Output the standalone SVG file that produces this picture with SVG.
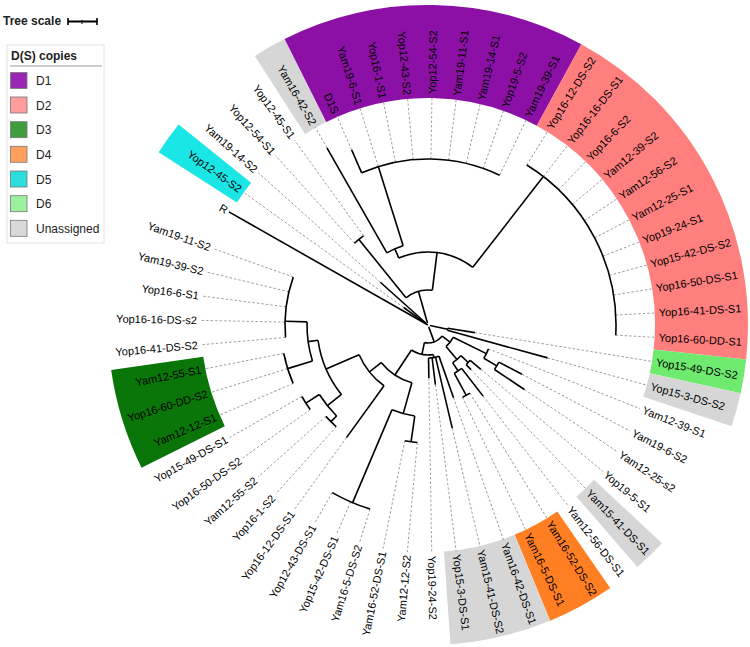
<svg xmlns="http://www.w3.org/2000/svg" width="750" height="647" viewBox="0 0 750 647">
<style>
.t{font-family:"Liberation Sans",Arial,sans-serif;font-size:11px;fill:#000}
.r{text-anchor:end}
.b line,.b circle{fill:none;stroke:#000;stroke-width:1.6}
.d line{stroke:#999;stroke-width:0.9;stroke-dasharray:2.5 2}
.band{fill:none;stroke-width:93}
.lg{font-family:"Liberation Sans",Arial,sans-serif;font-size:12px;fill:#222}
.sw{stroke:#777;stroke-width:0.8}
</style>
<rect width="750" height="647" fill="#fff"/>
<g id="legend">
<text x="3" y="25" class="lg" font-weight="bold" fill="#000">Tree scale</text>
<g stroke="#000" stroke-width="1.6"><line x1="68" y1="21.5" x2="97" y2="21.5" stroke-width="2"/><line x1="68" y1="18" x2="68" y2="25"/><line x1="97" y1="18" x2="97" y2="25"/><line x1="82" y1="20" x2="82" y2="24" stroke-width="1"/></g>
<rect x="7" y="45" width="97" height="198" fill="#fff" stroke="#e2e2e2"/>
<text x="11" y="60" class="lg" font-weight="bold" fill="#000">D(S) copies</text>
<line x1="10" y1="66" x2="102" y2="66" stroke="#999"/>
<rect class="sw" x="10.5" y="72.5" width="16.5" height="16" fill="#9B26B6"/><text class="lg" x="36" y="85">D1</text>
<rect class="sw" x="10.5" y="97" width="16.5" height="16" fill="#FF9C9C"/><text class="lg" x="36" y="109.5">D2</text>
<rect class="sw" x="10.5" y="121.7" width="16.5" height="16" fill="#3E9E3E"/><text class="lg" x="36" y="134.2">D3</text>
<rect class="sw" x="10.5" y="146.3" width="16.5" height="16" fill="#FFA05C"/><text class="lg" x="36" y="158.8">D4</text>
<rect class="sw" x="10.5" y="171" width="16.5" height="16" fill="#2BDDDD"/><text class="lg" x="36" y="183.5">D5</text>
<rect class="sw" x="10.5" y="195.7" width="16.5" height="16" fill="#9BF09B"/><text class="lg" x="36" y="208.2">D6</text>
<rect class="sw" x="10.5" y="220.3" width="16.5" height="16" fill="#D9D9D9"/><text class="lg" x="36" y="232.8">Unassigned</text>
</g>
<g transform="translate(428,325)">
<g id="bands">
<circle class="band" r="273.5" pathLength="360" stroke="#1BE6E6" stroke-dasharray="6.14 360" transform="rotate(212.67)"/>
<circle class="band" r="273.5" pathLength="360" stroke="#D6D6D6" stroke-dasharray="6.14 360" transform="rotate(237.23)"/>
<circle class="band" r="273.5" pathLength="360" stroke="#8C10A6" stroke-dasharray="55.26 360" transform="rotate(243.37)"/>
<circle class="band" r="273.5" pathLength="360" stroke="#FF7F7F" stroke-dasharray="67.54 360" transform="rotate(298.63)"/>
<circle class="band" r="273.5" pathLength="360" stroke="#6EEB6E" stroke-dasharray="6.14 360" transform="rotate(6.17)"/>
<circle class="band" r="273.5" pathLength="360" stroke="#D6D6D6" stroke-dasharray="6.14 360" transform="rotate(12.31)"/>
<circle class="band" r="273.5" pathLength="360" stroke="#D6D6D6" stroke-dasharray="6.14 360" transform="rotate(43.01)"/>
<circle class="band" r="273.5" pathLength="360" stroke="#FF7F22" stroke-dasharray="12.28 360" transform="rotate(55.29)"/>
<circle class="band" r="273.5" pathLength="360" stroke="#D6D6D6" stroke-dasharray="18.42 360" transform="rotate(67.57)"/>
<circle class="band" r="273.5" pathLength="360" stroke="#0A760A" stroke-dasharray="18.42 360" transform="rotate(153.53)"/>
</g>
<g id="connectors">
<g class="d">
<line x1="30" x2="228" transform="rotate(215.74)"/>
<line x1="64" x2="228" transform="rotate(221.88)"/>
<line x1="110" x2="228" transform="rotate(228.02)"/>
<line x1="110" x2="228" transform="rotate(234.16)"/>
<line x1="204" x2="228" transform="rotate(240.3)"/>
<line x1="191" x2="228" transform="rotate(246.44)"/>
<line x1="166" x2="228" transform="rotate(252.58)"/>
<line x1="166" x2="228" transform="rotate(258.72)"/>
<line x1="166" x2="228" transform="rotate(264.86)"/>
<line x1="166" x2="228" transform="rotate(271)"/>
<line x1="166" x2="228" transform="rotate(277.14)"/>
<line x1="166" x2="228" transform="rotate(283.28)"/>
<line x1="166" x2="228" transform="rotate(289.42)"/>
<line x1="166" x2="228" transform="rotate(295.56)"/>
<line x1="188" x2="228" transform="rotate(301.7)"/>
<line x1="188" x2="228" transform="rotate(307.84)"/>
<line x1="188" x2="228" transform="rotate(313.98)"/>
<line x1="188" x2="228" transform="rotate(320.12)"/>
<line x1="188" x2="228" transform="rotate(326.26)"/>
<line x1="188" x2="228" transform="rotate(332.4)"/>
<line x1="188" x2="228" transform="rotate(338.54)"/>
<line x1="188" x2="228" transform="rotate(344.68)"/>
<line x1="188" x2="228" transform="rotate(350.82)"/>
<line x1="188" x2="228" transform="rotate(356.96)"/>
<line x1="188" x2="228" transform="rotate(3.1)"/>
<line x1="47.5" x2="228" transform="rotate(9.24)"/>
<line x1="124" x2="228" transform="rotate(15.38)"/>
<line x1="65" x2="228" transform="rotate(21.52)"/>
<line x1="106" x2="228" transform="rotate(27.66)"/>
<line x1="116" x2="228" transform="rotate(33.8)"/>
<line x1="69" x2="228" transform="rotate(39.94)"/>
<line x1="62" x2="228" transform="rotate(46.08)"/>
<line x1="90" x2="228" transform="rotate(52.22)"/>
<line x1="80" x2="228" transform="rotate(58.36)"/>
<line x1="80" x2="228" transform="rotate(64.5)"/>
<line x1="77" x2="228" transform="rotate(70.64)"/>
<line x1="106" x2="228" transform="rotate(76.78)"/>
<line x1="60" x2="228" transform="rotate(82.92)"/>
<line x1="53" x2="228" transform="rotate(89.06)"/>
<line x1="118" x2="228" transform="rotate(95.2)"/>
<line x1="118" x2="228" transform="rotate(101.34)"/>
<line x1="193" x2="228" transform="rotate(107.48)"/>
<line x1="193" x2="228" transform="rotate(113.62)"/>
<line x1="193" x2="228" transform="rotate(119.76)"/>
<line x1="139" x2="228" transform="rotate(125.9)"/>
<line x1="137" x2="228" transform="rotate(132.04)"/>
<line x1="137" x2="228" transform="rotate(138.18)"/>
<line x1="145" x2="228" transform="rotate(144.32)"/>
<line x1="145" x2="228" transform="rotate(150.46)"/>
<line x1="147" x2="228" transform="rotate(156.6)"/>
<line x1="147" x2="228" transform="rotate(162.74)"/>
<line x1="147" x2="228" transform="rotate(168.88)"/>
<line x1="143" x2="228" transform="rotate(175.02)"/>
<line x1="143" x2="228" transform="rotate(181.16)"/>
<line x1="143" x2="228" transform="rotate(187.3)"/>
<line x1="143" x2="228" transform="rotate(193.44)"/>
<line x1="143" x2="228" transform="rotate(199.58)"/>
</g>
<g class="b">
<line x1="0" x2="229" transform="rotate(209.6)"/>
<line x1="2" x2="30" transform="rotate(215.74)"/>
<line x1="3" x2="64" transform="rotate(221.88)"/>
<line x1="2" x2="35" transform="rotate(-105.885)"/>
<circle r="35" pathLength="360" stroke-dasharray="46.05 360" transform="rotate(-128.91)"/>
<line x1="35" x2="110" transform="rotate(-128.91)"/>
<circle r="110" pathLength="360" stroke-dasharray="6.14 360" transform="rotate(-131.98)"/>
<line x1="35" x2="73" transform="rotate(-82.86)"/>
<circle r="73" pathLength="360" stroke-dasharray="61.4 360" transform="rotate(-113.56)"/>
<line x1="73" x2="83" transform="rotate(-113.56)"/>
<circle r="83" pathLength="360" stroke-dasharray="12.28 360" transform="rotate(-119.7)"/>
<line x1="83" x2="204" transform="rotate(-119.7)"/>
<line x1="83" x2="166" transform="rotate(-107.42)"/>
<circle r="166" pathLength="360" stroke-dasharray="49.12 360" transform="rotate(-113.56)"/>
<line x1="166" x2="191" transform="rotate(-113.56)"/>
<line x1="73" x2="188" transform="rotate(-52.16)"/>
<circle r="188" pathLength="360" stroke-dasharray="61.4 360" transform="rotate(-58.3)"/>
<line x1="2" x2="20" transform="rotate(12.31)"/>
<circle r="20" pathLength="360" stroke-dasharray="6.14 360" transform="rotate(9.24)"/>
<line x1="20" x2="47.5" transform="rotate(9.24)"/>
<line x1="20" x2="124" transform="rotate(15.38)"/>
<line x1="2" x2="18" transform="rotate(69.8)"/>
<circle r="18" pathLength="360" stroke-dasharray="63.65 360" transform="rotate(38)"/>
<line x1="18" x2="28" transform="rotate(38)"/>
<circle r="28" pathLength="360" stroke-dasharray="23.8 360" transform="rotate(26.1)"/>
<line x1="28" x2="65" transform="rotate(26.1)"/>
<circle r="65" pathLength="360" stroke-dasharray="9.21 360" transform="rotate(21.52)"/>
<line x1="65" x2="80" transform="rotate(30.73)"/>
<circle r="80" pathLength="360" stroke-dasharray="6.14 360" transform="rotate(27.66)"/>
<line x1="80" x2="106" transform="rotate(27.66)"/>
<line x1="80" x2="116" transform="rotate(33.8)"/>
<line x1="28" x2="45" transform="rotate(49.9)"/>
<circle r="45" pathLength="360" stroke-dasharray="13.8 360" transform="rotate(43)"/>
<line x1="45" x2="55" transform="rotate(43)"/>
<circle r="55" pathLength="360" stroke-dasharray="6.14 360" transform="rotate(39.94)"/>
<line x1="55" x2="69" transform="rotate(39.94)"/>
<line x1="55" x2="62" transform="rotate(46.08)"/>
<line x1="45" x2="55" transform="rotate(56.8)"/>
<circle r="55" pathLength="360" stroke-dasharray="9.21 360" transform="rotate(52.22)"/>
<line x1="55" x2="90" transform="rotate(52.22)"/>
<line x1="55" x2="80" transform="rotate(61.43)"/>
<circle r="80" pathLength="360" stroke-dasharray="6.14 360" transform="rotate(58.36)"/>
<line x1="18" x2="30" transform="rotate(101.65)"/>
<circle r="30" pathLength="360" stroke-dasharray="43.6 360" transform="rotate(79.85)"/>
<line x1="30" x2="33" transform="rotate(79.85)"/>
<circle r="33" pathLength="360" stroke-dasharray="18.42 360" transform="rotate(70.64)"/>
<line x1="33" x2="77" transform="rotate(70.64)"/>
<line x1="33" x2="106" transform="rotate(76.78)"/>
<line x1="33" x2="60" transform="rotate(82.92)"/>
<line x1="33" x2="53" transform="rotate(89.06)"/>
<line x1="30" x2="60" transform="rotate(123.45)"/>
<circle r="60" pathLength="360" stroke-dasharray="35.7 360" transform="rotate(105.6)"/>
<line x1="60" x2="92" transform="rotate(105.6)"/>
<circle r="92" pathLength="360" stroke-dasharray="14.73 360" transform="rotate(98.27)"/>
<line x1="92" x2="118" transform="rotate(98.27)"/>
<circle r="118" pathLength="360" stroke-dasharray="6.14 360" transform="rotate(95.2)"/>
<line x1="92" x2="193" transform="rotate(113)"/>
<circle r="193" pathLength="360" stroke-dasharray="12.28 360" transform="rotate(107.48)"/>
<line x1="60" x2="75" transform="rotate(141.3)"/>
<circle r="75" pathLength="360" stroke-dasharray="30.8 360" transform="rotate(125.9)"/>
<line x1="75" x2="139" transform="rotate(125.9)"/>
<line x1="75" x2="111" transform="rotate(156.7)"/>
<circle r="111" pathLength="360" stroke-dasharray="30.85 360" transform="rotate(141.25)"/>
<line x1="111" x2="129" transform="rotate(141.25)"/>
<circle r="129" pathLength="360" stroke-dasharray="12.28 360" transform="rotate(135.11)"/>
<line x1="129" x2="137" transform="rotate(135.11)"/>
<circle r="137" pathLength="360" stroke-dasharray="6.14 360" transform="rotate(132.04)"/>
<line x1="129" x2="145" transform="rotate(147.39)"/>
<circle r="145" pathLength="360" stroke-dasharray="6.14 360" transform="rotate(144.32)"/>
<line x1="111" x2="121" transform="rotate(172.1)"/>
<circle r="121" pathLength="360" stroke-dasharray="18.76 360" transform="rotate(162.74)"/>
<line x1="121" x2="147" transform="rotate(162.74)"/>
<circle r="147" pathLength="360" stroke-dasharray="12.28 360" transform="rotate(156.6)"/>
<line x1="121" x2="143" transform="rotate(181.5)"/>
<circle r="143" pathLength="360" stroke-dasharray="24.56 360" transform="rotate(175.02)"/>
</g>
</g>
<g id="leaves">
<g id="n0"><text class="t r" x="-231" dy=".35em" transform="rotate(29.6)">R</text></g>
<g id="n1"><text class="t r" x="-231" dy=".35em" transform="rotate(35.74)">Yop12-45-S2</text></g>
<g id="n2"><text class="t r" x="-231" dy=".35em" transform="rotate(41.88)">Yam19-14-S2</text></g>
<g id="n3"><text class="t r" x="-231" dy=".35em" transform="rotate(48.02)">Yop12-54-S1</text></g>
<g id="n4"><text class="t r" x="-231" dy=".35em" transform="rotate(54.16)">Yop12-45-S1</text></g>
<g id="n5"><text class="t r" x="-231" dy=".35em" transform="rotate(60.3)">Yam16-42-S2</text></g>
<g id="n6"><text class="t r" x="-231" dy=".35em" transform="rotate(66.44)">D1S</text></g>
<g id="n7"><text class="t r" x="-231" dy=".35em" transform="rotate(72.58)">Yam19-6-S1</text></g>
<g id="n8"><text class="t r" x="-231" dy=".35em" transform="rotate(78.72)">Yop16-1-S1</text></g>
<g id="n9"><text class="t r" x="-231" dy=".35em" transform="rotate(84.86)">Yop12-43-S2</text></g>
<g id="n10"><text class="t" x="231" dy=".35em" transform="rotate(-89)">Yop12-54-S2</text></g>
<g id="n11"><text class="t" x="231" dy=".35em" transform="rotate(-82.86)">Yam19-11-S1</text></g>
<g id="n12"><text class="t" x="231" dy=".35em" transform="rotate(-76.72)">Yam19-14-S1</text></g>
<g id="n13"><text class="t" x="231" dy=".35em" transform="rotate(-70.58)">Yop19-5-S2</text></g>
<g id="n14"><text class="t" x="231" dy=".35em" transform="rotate(-64.44)">Yam19-39-S1</text></g>
<g id="n15"><text class="t" x="231" dy=".35em" transform="rotate(-58.3)">Yop16-12-DS-S2</text></g>
<g id="n16"><text class="t" x="231" dy=".35em" transform="rotate(-52.16)">Yop16-16-DS-S1</text></g>
<g id="n17"><text class="t" x="231" dy=".35em" transform="rotate(-46.02)">Yop16-6-S2</text></g>
<g id="n18"><text class="t" x="231" dy=".35em" transform="rotate(-39.88)">Yam12-39-S2</text></g>
<g id="n19"><text class="t" x="231" dy=".35em" transform="rotate(-33.74)">Yam12-56-S2</text></g>
<g id="n20"><text class="t" x="231" dy=".35em" transform="rotate(-27.6)">Yam12-25-S1</text></g>
<g id="n21"><text class="t" x="231" dy=".35em" transform="rotate(-21.46)">Yop19-24-S1</text></g>
<g id="n22"><text class="t" x="231" dy=".35em" transform="rotate(-15.32)">Yop15-42-DS-S2</text></g>
<g id="n23"><text class="t" x="231" dy=".35em" transform="rotate(-9.18)">Yop16-50-DS-S1</text></g>
<g id="n24"><text class="t" x="231" dy=".35em" transform="rotate(-3.04)">Yop16-41-DS-S1</text></g>
<g id="n25"><text class="t" x="231" dy=".35em" transform="rotate(3.1)">Yop16-60-DD-S1</text></g>
<g id="n26"><text class="t" x="231" dy=".35em" transform="rotate(9.24)">Yop15-49-DS-S2</text></g>
<g id="n27"><text class="t" x="231" dy=".35em" transform="rotate(15.38)">Yop15-3-DS-S2</text></g>
<g id="n28"><text class="t" x="231" dy=".35em" transform="rotate(21.52)">Yam12-39-S1</text></g>
<g id="n29"><text class="t" x="231" dy=".35em" transform="rotate(27.66)">Yam19-6-S2</text></g>
<g id="n30"><text class="t" x="231" dy=".35em" transform="rotate(33.8)">Yam12-25-s2</text></g>
<g id="n31"><text class="t" x="231" dy=".35em" transform="rotate(39.94)">Yop19-5-S1</text></g>
<g id="n32"><text class="t" x="231" dy=".35em" transform="rotate(46.08)">Yam15-41-DS-S1</text></g>
<g id="n33"><text class="t" x="231" dy=".35em" transform="rotate(52.22)">Yam12-56-DS-S1</text></g>
<g id="n34"><text class="t" x="231" dy=".35em" transform="rotate(58.36)">Yam16-52-DS-S2</text></g>
<g id="n35"><text class="t" x="231" dy=".35em" transform="rotate(64.5)">Yam16-5-DS-S1</text></g>
<g id="n36"><text class="t" x="231" dy=".35em" transform="rotate(70.64)">Yam16-42-DS-S1</text></g>
<g id="n37"><text class="t" x="231" dy=".35em" transform="rotate(76.78)">Yam15-41-DS-S2</text></g>
<g id="n38"><text class="t" x="231" dy=".35em" transform="rotate(82.92)">Yop15-3-DS-S1</text></g>
<g id="n39"><text class="t" x="231" dy=".35em" transform="rotate(89.06)">Yop19-24-S2</text></g>
<g id="n40"><text class="t r" x="-231" dy=".35em" transform="rotate(-84.8)">Yam12-12-S2</text></g>
<g id="n41"><text class="t r" x="-231" dy=".35em" transform="rotate(-78.66)">Yam16-52-DS-S1</text></g>
<g id="n42"><text class="t r" x="-231" dy=".35em" transform="rotate(-72.52)">Yam16-5-DS-S2</text></g>
<g id="n43"><text class="t r" x="-231" dy=".35em" transform="rotate(-66.38)">Yop15-42-DS-S1</text></g>
<g id="n44"><text class="t r" x="-231" dy=".35em" transform="rotate(-60.24)">Yop12-43-DS-S1</text></g>
<g id="n45"><text class="t r" x="-231" dy=".35em" transform="rotate(-54.1)">Yop16-12-DS-S1</text></g>
<g id="n46"><text class="t r" x="-231" dy=".35em" transform="rotate(-47.96)">Yop16-1-S2</text></g>
<g id="n47"><text class="t r" x="-231" dy=".35em" transform="rotate(-41.82)">Yam12-55-S2</text></g>
<g id="n48"><text class="t r" x="-231" dy=".35em" transform="rotate(-35.68)">Yop16-50-DS-S2</text></g>
<g id="n49"><text class="t r" x="-231" dy=".35em" transform="rotate(-29.54)">Yop15-49-DS-S1</text></g>
<g id="n50"><text class="t r" x="-231" dy=".35em" transform="rotate(-23.4)">Yam12-12-S1</text></g>
<g id="n51"><text class="t r" x="-231" dy=".35em" transform="rotate(-17.26)">Yop16-60-DD-S2</text></g>
<g id="n52"><text class="t r" x="-231" dy=".35em" transform="rotate(-11.12)">Yam12-55-S1</text></g>
<g id="n53"><text class="t r" x="-231" dy=".35em" transform="rotate(-4.98)">Yop16-41-DS-S2</text></g>
<g id="n54"><text class="t r" x="-231" dy=".35em" transform="rotate(1.16)">Yop16-16-DS-s2</text></g>
<g id="n55"><text class="t r" x="-231" dy=".35em" transform="rotate(7.3)">Yop16-6-S1</text></g>
<g id="n56"><text class="t r" x="-231" dy=".35em" transform="rotate(13.44)">Yam19-39-S2</text></g>
<g id="n57"><text class="t r" x="-231" dy=".35em" transform="rotate(19.58)">Yam19-11-S2</text></g>
</g>
</g>
</svg>
